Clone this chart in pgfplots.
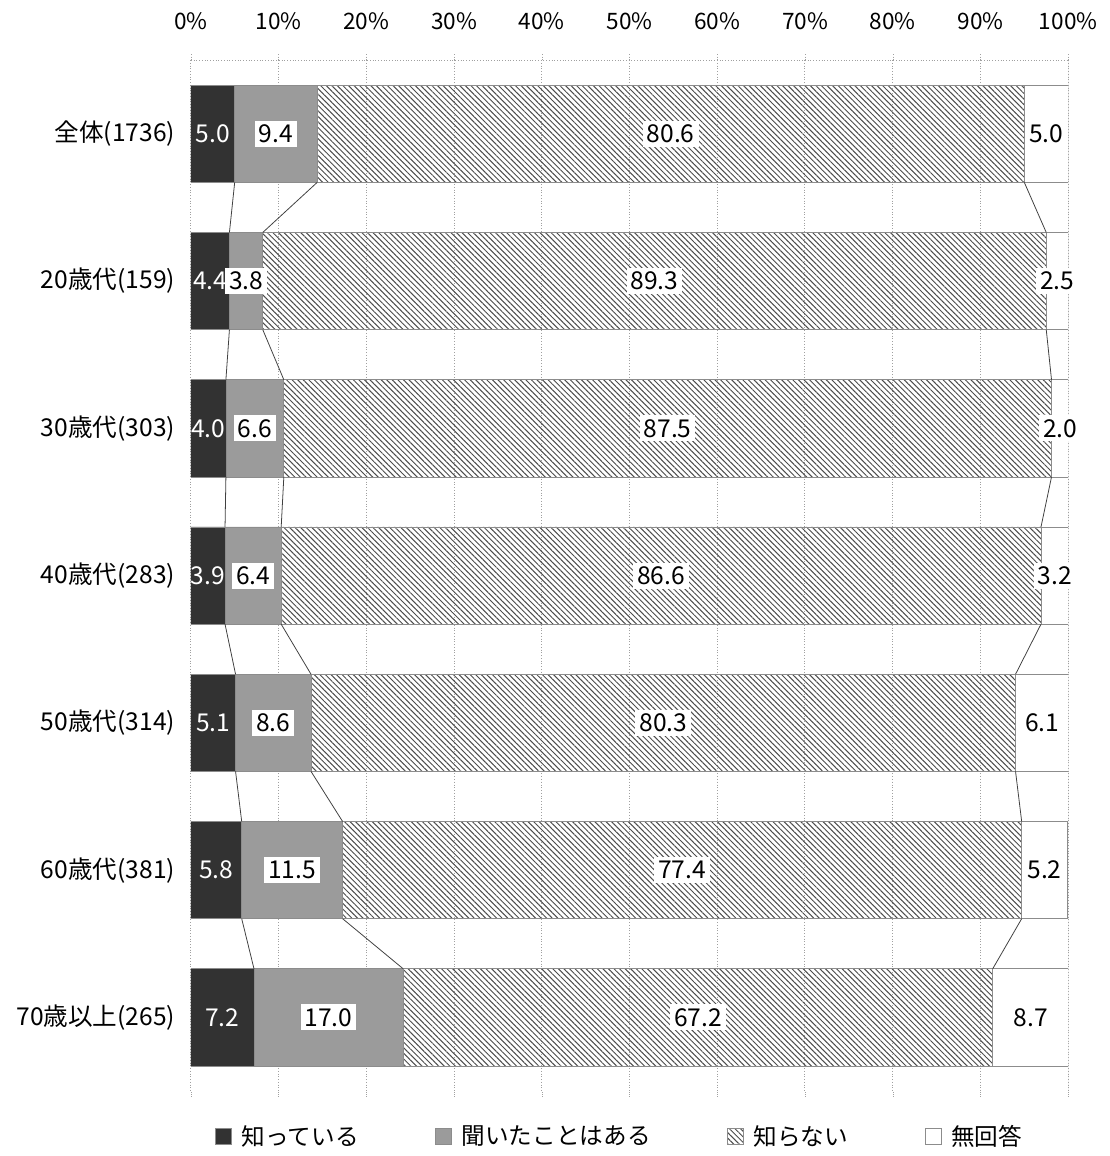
\documentclass[border=0pt]{standalone}
\usepackage{pgfplots}
\pgfplotsset{compat=1.18}
\usepackage{pgfplotstable}
\usepackage{fontspec}
\setmainfont{Noto Sans CJK JP}
\usetikzlibrary{patterns,patterns.meta}

\definecolor{dark}{RGB}{50,50,50}
\definecolor{mid}{RGB}{155,155,155}
\definecolor{edge}{RGB}{140,140,140}
\definecolor{gridc}{RGB}{160,160,160}

% shares (%), rows top to bottom
\pgfplotstableread{
y  a   b    c    d
0  5.0 9.4  80.6 5.0
1  4.4 3.8  89.3 2.5
2  4.0 6.6  87.5 2.0
3  3.9 6.4  86.6 3.2
4  5.1 8.6  80.3 6.1
5  5.8 11.5 77.4 5.2
6  7.2 17.0 67.2 8.7
}\shares

% label positions (segment centres)
\pgfplotstableread{
x     y  l
2.5   0  5.0
2.2   1  4.4
2.0   2  4.0
1.95  3  3.9
2.55  4  5.1
2.9   5  5.8
3.6   6  7.2
}\labA
\pgfplotstableread{
x     y  l
9.7   0  9.4
6.3   1  3.8
7.3   2  6.6
7.1   3  6.4
9.4   4  8.6
11.55 5  11.5
15.7  6  17.0
54.7  0  80.6
52.85 1  89.3
54.35 2  87.5
53.6  3  86.6
53.85 4  80.3
56.0  5  77.4
57.8  6  67.2
97.5  0  5.0
98.75 1  2.5
99.1  2  2.0
98.5  3  3.2
97.05 4  6.1
97.3  5  5.2
95.75 6  8.7
}\labB

% series lines between neighbouring bars (nan rows break the line)
\pgfplotstableread{
x    y
5.0  0.33
4.4  0.67
nan  nan
4.4  1.33
4.0  1.67
nan  nan
4.0  2.33
3.9  2.67
nan  nan
3.9  3.33
5.1  3.67
nan  nan
5.1  4.33
5.8  4.67
nan  nan
5.8  5.33
7.2  5.67
nan  nan
14.4 0.33
8.2  0.67
nan  nan
8.2  1.33
10.6 1.67
nan  nan
10.6 2.33
10.3 2.67
nan  nan
10.3 3.33
13.7 3.67
nan  nan
13.7 4.33
17.3 4.67
nan  nan
17.3 5.33
24.2 5.67
nan  nan
95.0 0.33
97.5 0.67
nan  nan
97.5 1.33
98.1 1.67
nan  nan
98.1 2.33
96.9 2.67
nan  nan
96.9 3.33
94.0 3.67
nan  nan
94.0 4.33
94.7 4.67
nan  nan
94.7 5.33
91.4 5.67
}\links

\pgfplotsset{
  base/.style={
    scale only axis,
    width=446pt, height=524pt,
    xmin=0, xmax=100, ymin=-0.5, ymax=6.5,
    y dir=reverse,
  },
}

\begin{document}
\begin{tikzpicture}
\begin{axis}[
  base,
  xbar stacked,
  bar width=0.66,
  axis line style={draw=none},
  xtick={0,10,...,100},
  xticklabel pos=upper,
  xticklabel={\pgfmathprintnumber{\tick}\%},
  x tick label style={font=\fontsize{11.5}{13}\selectfont, yshift=9pt},
  /pgf/number format/assume math mode=true,
  xmajorgrids,
  grid style={gridc, densely dotted, line width=0.5pt},
  tick align=outside,
  major tick length=3pt,
  x tick style={gridc, densely dotted},
  ytick={0,...,6},
  yticklabels={全体(1736),20歳代(159),30歳代(303),40歳代(283),50歳代(314),60歳代(381),70歳以上(265)},
  y tick label style={font=\fontsize{12.5}{14}\selectfont, xshift=-1.5pt},
  y tick style={draw=none},
  minor ytick={-0.5,0.5,...,6.5},
  minor tick length=3.5pt,
  minor y tick style={gridc, densely dotted},
  legend style={at={(0.49,-0.025)}, anchor=north, draw=none,
    font=\fontsize{12}{14}\selectfont, legend columns=4,
    /tikz/every odd column/.append style={column sep=3pt},
    /tikz/every even column/.append style={column sep=37pt}},
  legend image code/.code={\draw[#1, draw=edge] (0pt,-4pt) rectangle (8pt,4pt);},
]
\addplot[fill=dark, draw=edge] table[x=a, y=y] {\shares};
\addlegendentry{知っている}
\addplot[fill=mid, draw=edge] table[x=b, y=y] {\shares};
\addlegendentry{聞いたことはある}
\addplot[draw=edge, pattern={Lines[angle=-45,distance=2pt,line width=0.5pt]}, pattern color=black!70] table[x=c, y=y] {\shares};
\addlegendentry{知らない}
\addplot[fill=white, draw=edge] table[x=d, y=y] {\shares};
\addlegendentry{無回答}
\draw[gridc, densely dotted] (axis cs:0,-0.5) -- (axis cs:100,-0.5);
\draw[gridc] (axis cs:100,-0.5) -- (axis cs:100,6.5);
\end{axis}

\begin{axis}[base, hide axis]
\addplot[black!75, unbounded coords=jump] table[x=x, y=y] {\links};
\addplot[draw=none, mark=none, nodes near coords, point meta=explicit symbolic,
  every node near coord/.append style={anchor=center, text=white,
    font=\fontsize{12.5}{14}\selectfont, inner sep=1.5pt}]
  table[x=x, y=y, meta=l] {\labA};
\addplot[draw=none, mark=none, nodes near coords, point meta=explicit symbolic,
  every node near coord/.append style={anchor=center, fill=white,
    font=\fontsize{12.5}{14}\selectfont, inner sep=2pt}]
  table[x=x, y=y, meta=l] {\labB};
\end{axis}
\path ([yshift=3pt]current bounding box.north) ([xshift=-5pt]current bounding box.west)
      ([xshift=3pt]current bounding box.east);
\end{tikzpicture}
\end{document}
